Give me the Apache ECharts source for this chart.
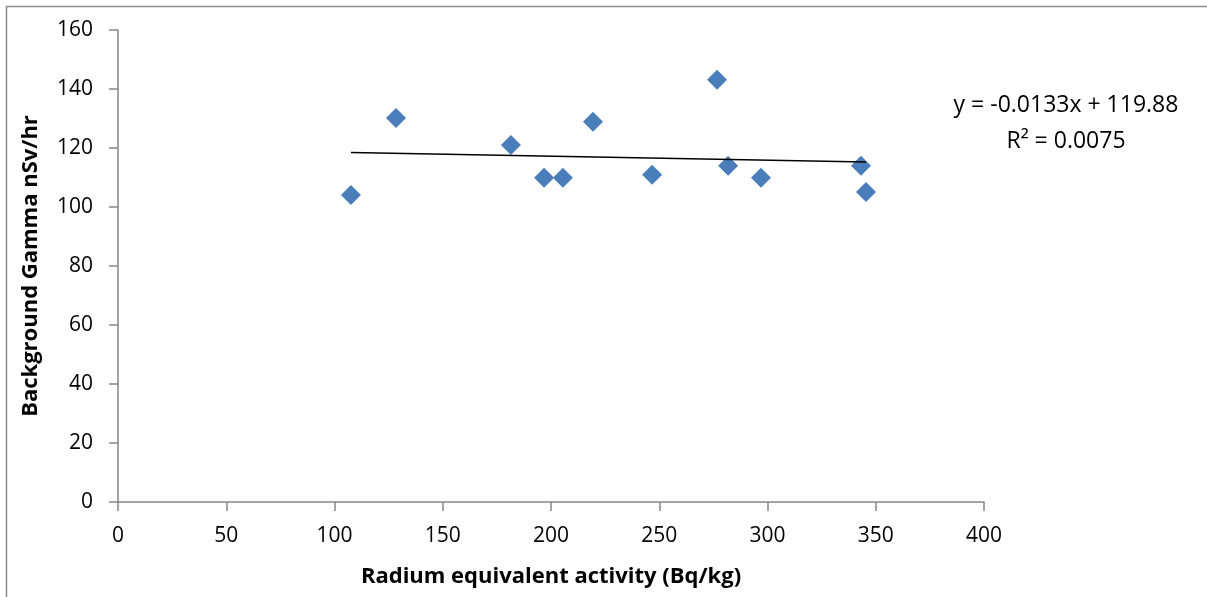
<!DOCTYPE html>
<html>
<head>
<meta charset="utf-8">
<script src="https://cdn.jsdelivr.net/npm/echarts@6/dist/echarts.min.js"></script>
<style>
  html, body { margin: 0; padding: 0; background: #fff; }
  #chart { width: 1207px; height: 597px; }
</style>
</head>
<body>
<div id="chart"></div>
<script>
// radium equivalent activity (Bq/kg) vs background gamma (nSv/hr)
var raEq = [107.6, 128.4, 181.5, 196.8, 205.5, 219.4, 246.7, 276.7, 281.8, 297.0, 343.2, 345.5];
var gamma = [104.1, 130.2, 121.0, 109.9, 109.9, 128.9, 110.9, 143.1, 114.0, 109.9, 114.0, 105.1];
// linear trendline as shown on the chart
var slope = -0.0133;
var intercept = 119.88;
var rSquared = "0.0075";

var points = raEq.map(function (x, i) { return [x, gamma[i]]; });
var xMin = Math.min.apply(null, raEq);
var xMax = Math.max.apply(null, raEq);
var trend = [[xMin, slope * xMin + intercept], [xMax, slope * xMax + intercept]];

var font = "'Open Sans', 'Liberation Sans', sans-serif";
var axisGray = "#868686";

var myChart = echarts.init(document.getElementById("chart"));
myChart.setOption({
  backgroundColor: "#fff",
  animation: false,
  grid: { left: 118, right: 223, top: 30, bottom: 95 },
  xAxis: {
    type: "value",
    min: 0,
    max: 400,
    interval: 50,
    name: "Radium equivalent activity (Bq/kg)",
    nameLocation: "middle",
    nameGap: 64,
    nameTextStyle: { fontFamily: font, fontWeight: "bold", fontSize: 22, color: "#000" },
    axisLine: { lineStyle: { color: axisGray, width: 1.5 } },
    axisTick: { show: true, length: 9, inside: false, lineStyle: { color: axisGray, width: 1.5 } },
    axisLabel: { fontFamily: font, fontSize: 21, color: "#000", margin: 24 },
    splitLine: { show: false }
  },
  yAxis: {
    type: "value",
    min: 0,
    max: 160,
    interval: 20,
    name: "Background Gamma nSv/hr",
    nameLocation: "middle",
    nameGap: 76,
    nameTextStyle: { fontFamily: font, fontWeight: "bold", fontSize: 22, color: "#000" },
    axisLine: { show: true, lineStyle: { color: axisGray, width: 1.5 } },
    axisTick: { show: true, length: 9, lineStyle: { color: axisGray, width: 1.5 } },
    axisLabel: { fontFamily: font, fontSize: 21, color: "#000", margin: 25 },
    splitLine: { show: false }
  },
  series: [
    {
      type: "line",
      data: trend,
      symbol: "none",
      lineStyle: { color: "#000", width: 1.5 },
      z: 3
    },
    {
      type: "scatter",
      data: points,
      symbol: "diamond",
      symbolSize: [20, 20],
      itemStyle: { color: "#4a7ebb", opacity: 1 },
      z: 2
    }
  ],
  graphic: [
    {
      type: "rect",
      shape: { x: 6.5, y: 6.5, width: 1260, height: 640 },
      style: { fill: "none", stroke: "#8c8c8c", lineWidth: 1.5 },
      silent: true
    },
    {
      type: "text",
      x: 1066,
      y: 105,
      style: {
        text: "y = " + slope + "x + " + intercept,
        fontFamily: font,
        fontSize: 23,
        align: "center",
        verticalAlign: "middle",
        fill: "#000"
      }
    },
    {
      type: "text",
      x: 1066,
      y: 141,
      style: {
        text: "R² = " + rSquared,
        fontFamily: font,
        fontSize: 23,
        align: "center",
        verticalAlign: "middle",
        fill: "#000"
      }
    }
  ]
});
</script>
</body>
</html>
